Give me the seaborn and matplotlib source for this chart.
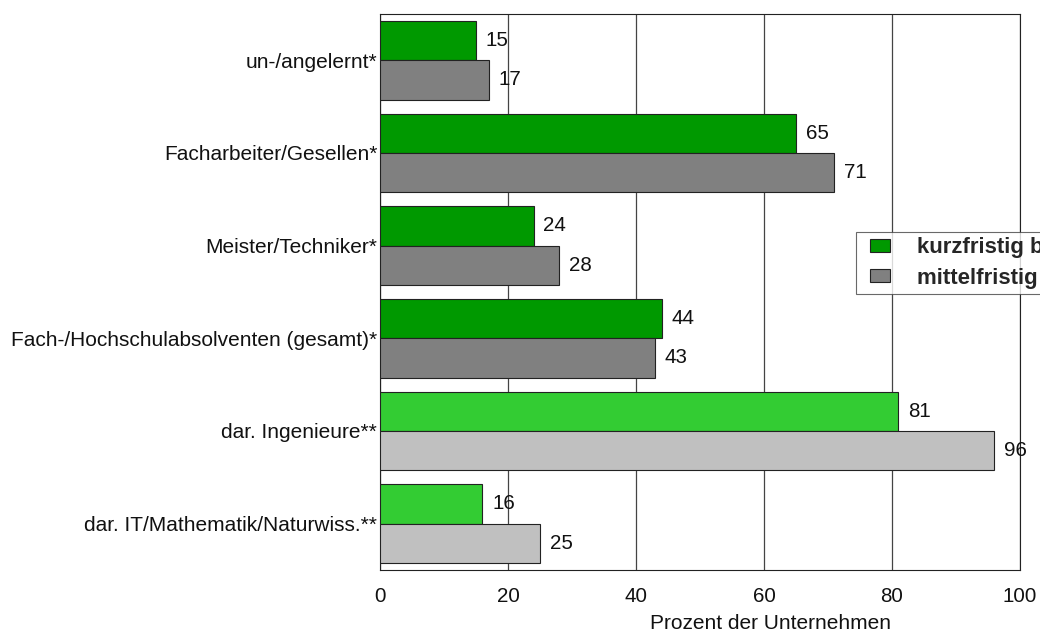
import pandas as pd
import numpy as np
import matplotlib
matplotlib.use("Agg")
import matplotlib.pyplot as plt
from matplotlib.patches import Patch, Rectangle
from matplotlib.legend_handler import HandlerPatch
import seaborn as sns

categories = ["un-/angelernt*", "Facharbeiter/Gesellen*", "Meister/Techniker*",
              "Fach-/Hochschulabsolventen (gesamt)*", "dar. Ingenieure**",
              "dar. IT/Mathematik/Naturwiss.**"]
kurz = [15, 65, 24, 44, 81, 16]
mittel = [17, 71, 28, 43, 96, 25]
series = ["kurzfristig bis 2 Jahre", "mittelfristig bis 5 Jahre"]
xticks = [0, 20, 40, 60, 80, 100]

dark = ["#009900", "#808080"]
light = ["#33cc33", "#c0c0c0"]

df = pd.DataFrame({
    "cat": categories * 2,
    "val": kurz + mittel,
    "series": [series[0]] * len(categories) + [series[1]] * len(categories),
})

sns.set_style("white")
plt.rcParams["font.family"] = ["Liberation Sans", "DejaVu Sans"]
fs = 14.8
fs_lab = 15.0

fig = plt.figure(figsize=(10.4, 6.35), dpi=100)
ax = fig.add_axes([0.3654, 0.1024, 0.6154, 0.8756])

sns.barplot(data=df, y="cat", x="val", hue="series", orient="h",
            palette=dark, saturation=1, width=0.85, edgecolor="#222222",
            linewidth=0.8, ax=ax, legend=False, zorder=3)

# lighter shades for the two "dar." rows
for j, cont in enumerate(ax.containers):
    for i, bar in enumerate(cont):
        if i >= 4:
            bar.set_facecolor(light[j])
    ax.bar_label(cont, padding=7, fontsize=fs, color="#111111")

ax.set_xlim(0, 100)
ax.set_ylim(5.5, -0.5)
ax.set_xticks(xticks)
ax.grid(axis="x", color="#444444", linewidth=0.9, zorder=0)
ax.grid(axis="y", visible=False)
ax.set_axisbelow(True)
for s in ax.spines.values():
    s.set_color("#222222")
    s.set_linewidth(0.8)
ax.tick_params(axis="x", length=0, pad=12, labelsize=fs, labelcolor="#111111")
ax.tick_params(axis="y", length=0, pad=2, labelsize=fs_lab, labelcolor="#111111")
ax.set_ylabel("")
ax.set_xlabel("Prozent der Unternehmen", fontsize=fs_lab, labelpad=6, x=0.61,
              color="#111111")


# small square handle sitting at the right of the handle slot
def small_box(legend, orig_handle, xdescent, ydescent, width, height, fontsize):
    w = 14.4
    return Rectangle((-xdescent + width - w, -ydescent), w, height)


handles = [Patch(facecolor=dark[0], edgecolor="#222222", linewidth=0.8),
           Patch(facecolor=dark[1], edgecolor="#222222", linewidth=0.8)]
leg = ax.legend(handles, series, loc="upper left", bbox_to_anchor=(0.744, 0.608),
                frameon=True, fancybox=False, prop={"weight": "bold", "size": 16},
                handlelength=1.3, handleheight=0.54, borderpad=0.23,
                labelspacing=0.43, handletextpad=1.2, borderaxespad=0,
                handler_map={Patch: HandlerPatch(patch_func=small_box)})
leg.get_frame().set_edgecolor("#444444")
leg.get_frame().set_linewidth(0.8)

fig.savefig("out.png", dpi=100)
